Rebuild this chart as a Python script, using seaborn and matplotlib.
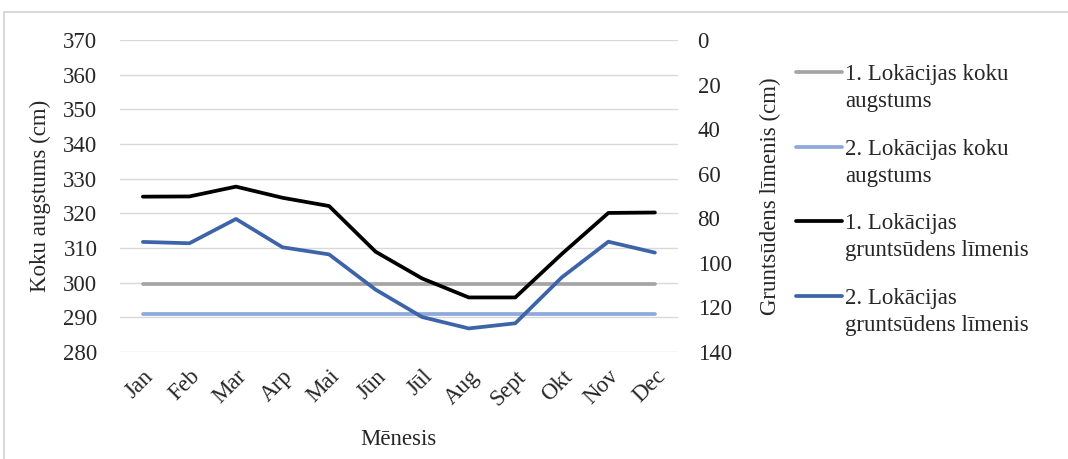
"""
Koku augstums un gruntsūdens līmenis pa mēnešiem (two y axes)
"""
import matplotlib
matplotlib.use('Agg')
import matplotlib.pyplot as plt
from matplotlib.patches import Rectangle
import seaborn as sns

months = ['Jan', 'Feb', 'Mar', 'Arp', 'Mai', 'Jūn', 'Jūl', 'Aug', 'Sept', 'Okt', 'Nov', 'Dec']

# tree height (left axis, cm)
tree_loc1 = [299.5] * 12
tree_loc2 = [291] * 12

# groundwater level (right axis, cm, inverted)
water_loc1 = [70.3, 70.2, 65.8, 70.8, 74.5, 95.0, 107.0, 115.5, 115.5, 96.0, 77.6, 77.4]
water_loc2 = [90.6, 91.2, 80.3, 93.0, 96.2, 112.0, 124.3, 129.4, 127.1, 106.5, 90.5, 95.4]

labels = ['1. Lokācijas koku\naugstums', '2. Lokācijas koku\naugstums',
          '1. Lokācijas\ngruntsūdens līmenis', '2. Lokācijas\ngruntsūdens līmenis']
colors = ['#a5a5a5', '#8eaadb', '#000000', '#3d64a8']

FS = 16.5
TXT = '#262626'

sns.set_style('white')
plt.rcParams['font.family'] = ['Liberation Serif', 'DejaVu Serif']

fig = plt.figure(figsize=(10.68, 4.59), dpi=100)
# light frame round the chart (cut at right and bottom like the source)
fig.patches.append(Rectangle((4 / 1068, -0.05), 1.1, 1.05 - 12 / 459,
                             transform=fig.transFigure, fill=False,
                             edgecolor='#d9d9d9', linewidth=1.5))

ax = fig.add_axes([0.112, 0.233, 0.523, 0.68])
ax2 = ax.twinx()

lw = 2.7
sns.lineplot(x=months, y=tree_loc1, ax=ax, color=colors[0], linewidth=lw, sort=False)
sns.lineplot(x=months, y=tree_loc2, ax=ax, color=colors[1], linewidth=lw, sort=False)
sns.lineplot(x=months, y=water_loc1, ax=ax2, color=colors[2], linewidth=lw, sort=False)
sns.lineplot(x=months, y=water_loc2, ax=ax2, color=colors[3], linewidth=lw, sort=False)

ax.set_ylim(280, 370)
ax.set_yticks(range(280, 371, 10))
ax2.set_ylim(140, 0)
ax2.set_yticks(range(0, 141, 20))
ax.set_xlim(-0.5, 11.5)

ax.grid(axis='y', color='#d9d9d9', linewidth=1)
ax.set_axisbelow(True)
for a in (ax, ax2):
    for s in a.spines.values():
        s.set_visible(False)
    a.tick_params(length=0, labelsize=FS, colors=TXT)

ax.set_xticks(range(12))
ax.set_xticklabels(months, rotation=45, ha='right', rotation_mode='anchor')
ax.tick_params(axis='x', pad=10)
ax.tick_params(axis='y', pad=16)
ax2.tick_params(axis='y', pad=14)

ax.set_xlabel('Mēnesis', fontsize=FS, color=TXT, labelpad=14)
ax.set_ylabel('Koku augstums (cm)', fontsize=FS, color=TXT, labelpad=9)
ax2.set_ylabel('Gruntsūdens līmenis (cm)', fontsize=FS, color=TXT, labelpad=20)

handles = ax.get_lines()[:2] + ax2.get_lines()[:2]
leg = fig.legend(handles, labels, loc='upper left', bbox_to_anchor=(0.726, 0.905),
                 frameon=False, fontsize=FS, handlelength=2.0, handletextpad=0.15,
                 labelspacing=1.15, labelcolor=TXT)
LSP = 1.38
for t in leg.get_texts():
    t.set_linespacing(LSP)
# Excel puts the key line next to the first text line
for ln in leg.get_lines():
    ln.set_ydata([y + 0.5 * LSP * FS for y in ln.get_ydata()])

plt.savefig('out.png', dpi=100)
